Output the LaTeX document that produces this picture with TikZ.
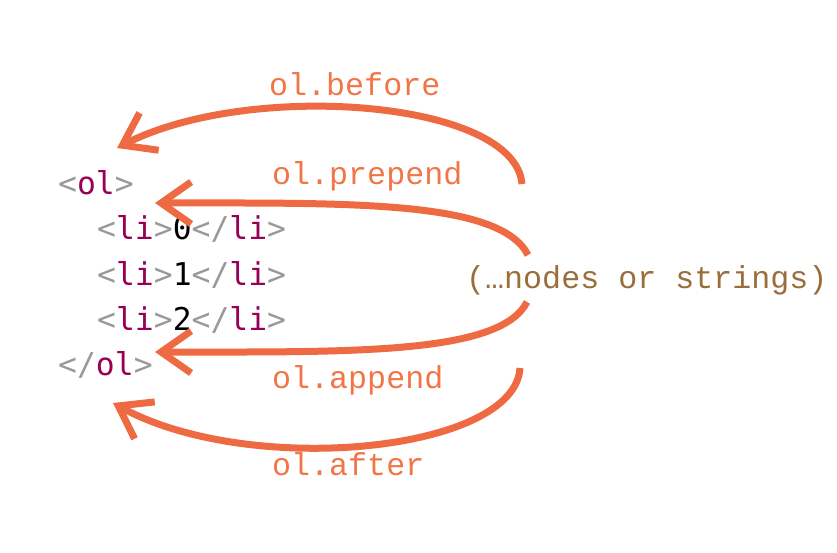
\documentclass[tikz,border=0pt]{standalone}
\usepackage{fontspec}
\setmonofont{DejaVu Sans Mono}
\newfontfamily\labelfont{Liberation Mono}
\usetikzlibrary{arrows.meta}
\definecolor{arrowred}{HTML}{EE6A42}
\definecolor{labelorange}{HTML}{F27547}
\definecolor{tagpurple}{HTML}{990055}
\definecolor{punctgray}{HTML}{999999}
\definecolor{textbrown}{HTML}{9A6E3A}
\newcommand{\tg}[1]{\textcolor{tagpurple}{#1}}
\newcommand{\pc}[1]{\textcolor{punctgray}{#1}}
\tikzset{
  code/.style = {anchor=west, inner sep=0pt, font=\ttfamily\fontsize{31.5}{36}\selectfont},
  lbl/.style = {anchor=west, inner sep=0pt, text=labelorange, font=\labelfont\fontsize{31.8}{36}\selectfont},
  insert/.style = {draw=arrowred, line width=7bp, -{Straight Barb[length=30bp,width=42bp]}}
}
\begin{document}
\begin{tikzpicture}[x=1bp, y=-1bp]
\useasboundingbox (0,0) rectangle (837,553);
% the list
\node [code] (olopen) at (58,183) {\pc{<}\tg{ol}\pc{>}};
\node [code] (li0) at (97,229) {\pc{<}\tg{li}\pc{>}0\pc{</}\tg{li}\pc{>}};
\node [code] (li1) at (97,275) {\pc{<}\tg{li}\pc{>}1\pc{</}\tg{li}\pc{>}};
\node [code] (li2) at (97,320) {\pc{<}\tg{li}\pc{>}2\pc{</}\tg{li}\pc{>}};
\node [code] (olclose) at (58,365) {\pc{</}\tg{ol}\pc{>}};

% labels
\node [lbl] (before) at (269,84) {ol.before};
\node [lbl] (prepend) at (272,176) {ol.prepend};
\node [lbl] (append) at (272,380) {ol.append};
\node [lbl] (after) at (272,464) {ol.after};
\node [lbl, text=textbrown] (items) at (466,280) {(…nodes or strings)};

% arrows
\coordinate (s1) at (522,184);
\coordinate (t1) at (117,148);
\coordinate (s2) at (528,255);
\coordinate (t2) at (155,203);
\coordinate (s3) at (527,302);
\coordinate (t3) at (155,352);
\coordinate (s4) at (520,368);
\coordinate (t4) at (113,403);
\draw [insert] (s1) .. controls (515,100) and (250,80) .. (t1);
\draw [insert] (s2) .. controls (500,200) and (350,203) .. (t2);
\draw [insert] (s3) .. controls (500,355) and (350,352) .. (t3);
\draw [insert] (s4) .. controls (515,452) and (250,478) .. (t4);
\end{tikzpicture}
\end{document}
